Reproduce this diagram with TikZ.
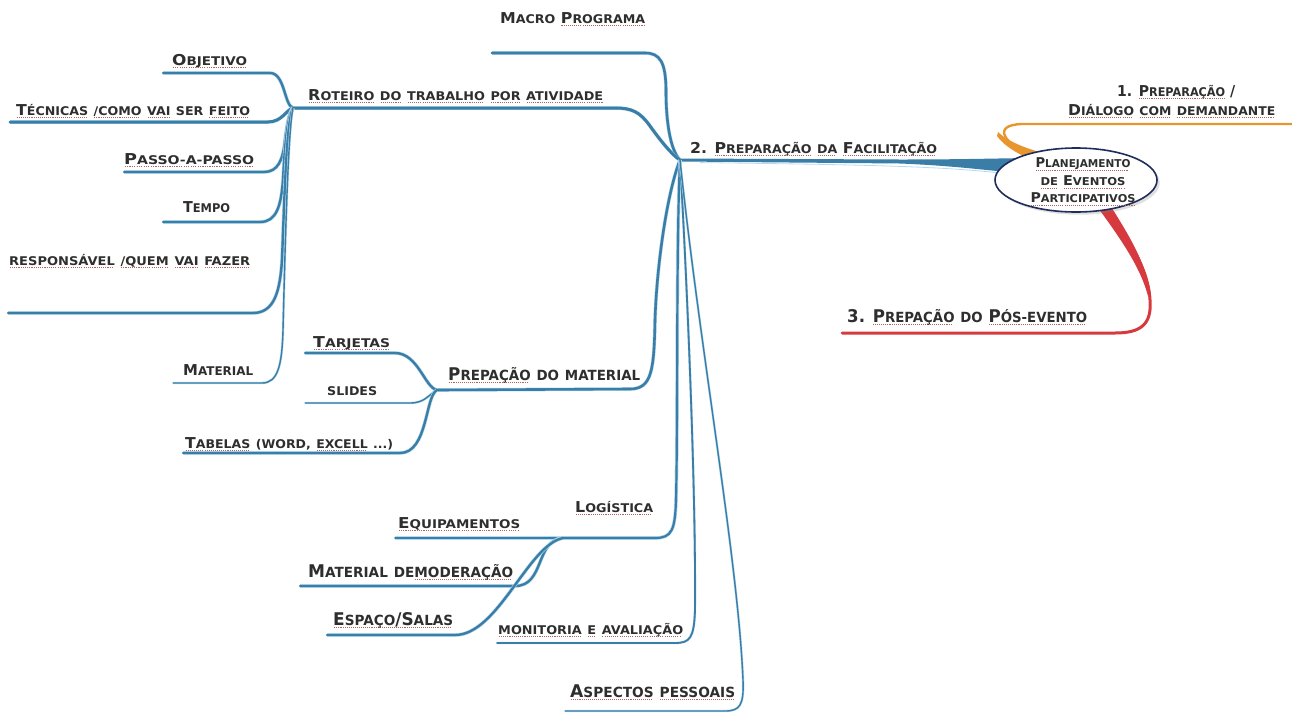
\documentclass[tikz,border=0pt]{standalone}
\usepackage{fontspec}
\setmainfont{DejaVu Sans}
\usepackage{graphicx}
\usetikzlibrary{shapes.geometric,shadows}

\definecolor{branch}{HTML}{3A7DA6}
\definecolor{branchlight}{HTML}{B5DAEE}
\definecolor{orangebr}{HTML}{E8952E}
\definecolor{redbr}{HTML}{D63A3E}
\definecolor{navy}{HTML}{1F2D5C}
\definecolor{ink}{HTML}{2E2E2E}
\definecolor{squig}{HTML}{B0645C}

% lower-case letters set as reduced capitals
\newcommand\smc[1]{\scalebox{0.8}{\MakeUppercase{#1}}}
% dotted underline under a word
\newsavebox\ulinebox
\newcommand\dul[1]{\sbox\ulinebox{#1}\rlap{\raisebox{-3pt}{\color{squig}\hbox to \wd\ulinebox{\leaders\hbox to 2pt{\hss\rule{1pt}{0.6pt}\hss}\hfill}}}\usebox\ulinebox}
% stretch a label horizontally to a given width
\newcommand\fitw[2]{\resizebox{#1pt}{\height}{#2}}

\begin{document}
\begin{tikzpicture}[x=1pt,y=-1pt,
  lbl/.style={inner sep=0pt, anchor=base west, text=ink, font=\bfseries\fontsize{15}{16}\selectfont},
  biglbl/.style={lbl, font=\bfseries\fontsize{17.5}{19}\selectfont},
  br/.style={draw=branch, line width=2.6pt, line cap=round, line join=round,
    preaction={draw=branchlight, line width=3.6pt}},
  sub/.style={br, line width=2.4pt},
  fine/.style={draw=branch, line width=1.4pt, line cap=round,
    preaction={draw=branchlight, line width=2.4pt}},
]
\useasboundingbox (0,0) rectangle (1292,713);

% junctions and free ends
\coordinate (hub) at (680,160);
\coordinate (macroE) at (492,53);
\coordinate (rotJ) at (293,108);
\coordinate (matJ) at (437,390);
\coordinate (logJ) at (563,538);
\coordinate (monE) at (497,643);
\coordinate (aspE) at (565,711);
\coordinate (objE) at (163,73);
\coordinate (tecE) at (10,122);
\coordinate (pasE) at (124,172);
\coordinate (temE) at (163,222);
\coordinate (resE) at (8,313);
\coordinate (mtlE) at (173,383);
\coordinate (tarE) at (305,353);
\coordinate (sliE) at (305,403);
\coordinate (tabE) at (183,453);
\coordinate (equE) at (395,538);
\coordinate (modE) at (300,586);
\coordinate (espE) at (327,635);
\coordinate (orS) at (1034,156);
\coordinate (orE) at (1292,124);
\coordinate (redS) at (1103,206);
\coordinate (redE) at (842,333);

% central trunk towards the main topic, widening as it arrives
\fill[branch] (hub) ++(0,-1.5) -- (900,159.5) .. controls (960,159.5) and (990,158.5) .. (1030,158)
  -- (1030,174) .. controls (990,171) and (960,166) .. (900,163.5) -- (680,161.5) -- cycle;
\draw[branchlight, line width=0.8pt] (700,162.6) .. controls (850,164.5) and (940,166) .. (1000,173);

% side branches of the main topic
\draw[draw=orangebr, line width=2.4pt, line cap=round]
  (orS) .. controls (1005,145) and (990,125) .. (1022,124) -- (orE);
\fill[orangebr] (1036,151) .. controls (1020,146) and (1006,140) .. (998,132)
  -- (997,136) .. controls (1004,146) and (1018,154) .. (1032,160) -- cycle;
\draw[draw=redbr, line width=3pt, line cap=round]
  (redS) .. controls (1125,235) and (1148,265) .. (1150,300)
  .. controls (1152,325) and (1140,333) .. (1115,333) -- (redE);
\fill[redbr] (1096,205) -- (1110,205) .. controls (1128,234) and (1146,262) .. (1151,296)
  -- (1148,296) .. controls (1140,266) and (1120,238) .. cycle;

% branches leaving the hub
\draw[br] (hub) .. controls (670,150) and (666,120) .. (666,92)
  .. controls (666,62) and (660,53) .. (645,53) -- (macroE);
\draw[br, line width=3pt] (hub) .. controls (672,155) and (660,140) .. (650,126)
  .. controls (640,112) and (632,108) .. (615,108) -- (rotJ);
\draw[br] (hub) .. controls (668,190) and (657,260) .. (655,320)
  .. controls (654,370) and (652,389) .. (630,389) -- (matJ);
\draw[br, line width=2.2pt] (hub) .. controls (676,250) and (678,420) .. (676,500)
  .. controls (675,530) and (672,538) .. (655,538) -- (logJ);
\draw[fine, line width=1.8pt] (hub) .. controls (688,300) and (696,500) .. (695,610)
  .. controls (694,638) and (690,643) .. (675,643) -- (monE);
\draw[fine] (hub) .. controls (700,350) and (738,560) .. (743,680)
  .. controls (744,705) and (740,711) .. (725,711) -- (aspE);

% activity script sub-branches
\draw[sub] (rotJ) .. controls (284,105) and (285,73) .. (270,73) -- (objE);
\draw[sub, line width=3pt] (rotJ) .. controls (286,110) and (282,122) .. (268,122) -- (tecE);
\draw[sub] (rotJ) .. controls (289,112) and (287,125) .. (285,140)
  .. controls (283,160) and (278,172) .. (264,172) -- (pasE);
\draw[sub] (rotJ) .. controls (288,115) and (285,140) .. (283,180)
  .. controls (281,205) and (277,222) .. (260,222) -- (temE);
\draw[sub] (rotJ) .. controls (287,120) and (285,180) .. (282,260)
  .. controls (280,290) and (275,313) .. (253,313) -- (resE);
\draw[fine] (rotJ) .. controls (288,130) and (285,250) .. (283,330)
  .. controls (282,365) and (278,383) .. (262,383) -- (mtlE);

% material sub-branches
\draw[sub] (matJ) .. controls (425,388) and (418,353) .. (395,353) -- (tarE);
\draw[fine] (matJ) .. controls (428,395) and (425,403) .. (410,403) -- (sliE);
\draw[sub] (matJ) .. controls (425,396) and (428,453) .. (400,453) -- (tabE);

% logistics sub-branches
\draw[sub, line width=2pt] (logJ) -- (equE);
\draw[sub] (logJ) .. controls (535,540) and (545,586) .. (515,586) -- (modE);
\draw[sub] (logJ) .. controls (528,545) and (498,635) .. (455,635) -- (espE);

% main topic
\node[ellipse, draw=navy, fill=white, line width=1.6pt, minimum width=162pt,
  minimum height=64pt, drop shadow={opacity=0.25}] (plan) at (1076,180) {};
\node[inner sep=0pt, align=center, text=ink,
  font=\bfseries\fontsize{13.5}{17.5}\selectfont] (plantext) at (1083,182)
  {\fitw{95}{\dul{P\smc{lanejamento}}}\\
   \fitw{85}{\dul{\smc{de}} \dul{E\smc{ventos}}}\\
   \fitw{105}{\dul{P\smc{articipativos}}}};

% labels
\node[lbl] (macro) at (500,23) {\fitw{145}{M\smc{acro} \dul{P\smc{rograma}}}};
\node[lbl] (roteiro) at (308,100) {\fitw{295}{\dul{R\smc{oteiro}} \dul{\smc{do}} \dul{\smc{trabalho}} \dul{\smc{por}} \dul{\smc{atividade}}}};
\node[lbl] (objetivo) at (172,65) {\fitw{75}{\dul{O\smc{bjetivo}}}};
\node[lbl] (tecnicas) at (16,115) {\fitw{234}{\dul{T\smc{écnicas}} \dul{\smc{/como}} \dul{\smc{vai}} \smc{ser} \dul{\smc{feito}}}};
\node[lbl] (passo) at (124,164) {\fitw{130}{\dul{P\smc{asso-a-passo}}}};
\node[lbl] (tempo) at (183,212) {\fitw{47}{T\smc{empo}}};
\node[lbl] (resp) at (9,265) {\fitw{241}{\dul{\smc{responsável}} \dul{\smc{/quem}} \dul{\smc{vai}} \dul{\smc{fazer}}}};
\node[lbl] (material) at (183,375) {\fitw{70}{M\smc{aterial}}};
\node[lbl] (tarjetas) at (313,347) {\fitw{77}{\dul{T\smc{arjetas}}}};
\node[lbl] (slides) at (327,395) {\fitw{50}{\smc{slides}}};
\node[lbl] (tabelas) at (185,448) {\fitw{208}{\dul{T\smc{abelas}} \smc{(word,} \dul{\smc{excell}} \smc{...)}}};
\node[biglbl] (prepmat) at (448,380) {\fitw{192}{\dul{P\smc{repação}} \smc{do} \smc{material}}};
\node[lbl] (logistica) at (575,512) {\fitw{78}{\dul{L\smc{ogística}}}};
\node[lbl] (equip) at (398,528) {\fitw{122}{\dul{E\smc{quipamentos}}}};
\node[biglbl] (moder) at (308,577) {\fitw{205}{M\smc{aterial} \smc{de}\dul{\smc{moderação}}}};
\node[biglbl] (espaco) at (333,625) {\fitw{120}{\dul{E\smc{spaço}/S\smc{alas}}}};
\node[lbl] (monit) at (498,634) {\fitw{185}{\dul{\smc{monitoria}} \dul{\smc{e}} \dul{\smc{avaliação}}}};
\node[biglbl] (aspectos) at (570,697) {\fitw{165}{\dul{A\smc{spectos}} \dul{\smc{pessoais}}}};
\node[lbl] (prepfac) at (690,153) {\fitw{247}{2. \dul{P\smc{reparação}} \dul{\smc{da}} \dul{F\smc{acilitação}}}};
\node[lbl] (prep1) at (1117,96) {\fitw{118}{1. \dul{P\smc{reparação}} /}};
\node[lbl] (dialogo) at (1068,115) {\fitw{207}{\dul{D\smc{iálogo}} \dul{\smc{com}} \dul{\smc{demandante}}}};
\node[biglbl] (posev) at (847,322) {\fitw{240}{3. \dul{P\smc{repação}} \smc{do} \dul{P\smc{ós-evento}}}};
\end{tikzpicture}
\end{document}
